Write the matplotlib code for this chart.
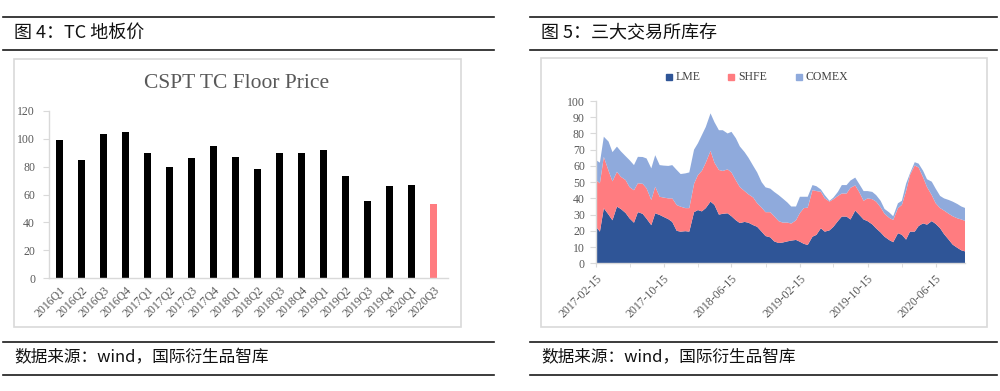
import matplotlib
matplotlib.use('Agg')
import matplotlib.pyplot as plt
import pandas as pd
from matplotlib.patches import Rectangle
from matplotlib.lines import Line2D

# ---------------- data ----------------
quarters = ['2016Q1', '2016Q2', '2016Q3', '2016Q4', '2017Q1', '2017Q2', '2017Q3', '2017Q4',
            '2018Q1', '2018Q2', '2018Q3', '2018Q4', '2019Q1', '2019Q2', '2019Q3', '2019Q4',
            '2020Q1', '2020Q3']
tc_price = [99, 85, 103, 105, 90, 80, 86, 95, 87, 78, 90, 90, 92, 73, 55, 66, 67, 53]
bar_colors = ['#000000'] * 17 + ['#ff7c80']

stock_dates = pd.date_range('2017-02-15', '2020-10-01', freq='SMS')
lme = [22.6, 19.5, 33.9, 30.0, 26.5, 34.9, 33.5, 31.0, 27.7, 25.0,
       31.5, 30.5, 27.5, 23.5, 30.8, 29.8, 28.6, 27.2, 25.5, 20.0,
       19.5, 19.8, 19.5, 31.5, 32.8, 32.0, 34.0, 38.0, 36.0, 30.0,
       30.5, 30.8, 29.0, 26.5, 24.8, 25.5, 25.0, 23.5, 22.5, 19.5,
       16.8, 16.0, 13.5, 12.5, 12.8, 13.5, 14.0, 14.4, 13.3, 12.0,
       11.3, 16.4, 17.5, 21.6, 19.5, 20.3, 22.5, 26.0, 28.8, 28.8,
       27.0, 32.5, 30.0, 27.0, 26.0, 24.0, 21.5, 19.0, 16.4, 14.3,
       13.0, 18.5, 17.6, 14.6, 19.5, 19.5, 23.0, 24.6, 23.8, 26.0,
       24.3, 21.6, 18.0, 14.5, 11.5, 9.5, 8.0, 7.2]
shfe = [28.7, 29.8, 31.7, 27.0, 24.0, 21.5, 19.8, 20.3, 19.3, 20.0,
        17.8, 18.5, 18.7, 15.5, 16.4, 11.2, 11.9, 12.8, 14.5, 15.9,
        15.4, 14.2, 14.5, 17.5, 21.6, 25.0, 28.0, 31.3, 26.0, 27.5,
        26.4, 27.1, 27.0, 24.5, 22.2, 19.0, 17.5, 17.0, 14.5, 14.8,
        14.7, 15.5, 15.5, 13.5, 12.3, 11.6, 10.5, 12.1, 17.7, 22.0,
        23.0, 28.7, 27.0, 22.5, 20.5, 17.7, 17.0, 15.5, 14.2, 14.2,
        19.5, 15.5, 14.0, 11.5, 14.0, 15.5, 16.5, 15.5, 14.1, 13.7,
        13.7, 15.5, 18.4, 29.9, 34.9, 40.8, 36.0, 28.4, 23.2, 16.0,
        12.7, 12.4, 14.5, 16.0, 17.5, 18.2, 19.0, 18.8]
comex = [12.3, 12.7, 12.4, 18.0, 18.0, 15.5, 15.7, 14.7, 16.6, 15.5,
         16.3, 16.5, 18.4, 19.5, 19.4, 19.5, 19.7, 20.0, 20.5, 21.6,
         20.1, 21.4, 22.0, 21.0, 19.6, 22.0, 22.0, 23.1, 25.0, 24.5,
         25.1, 22.1, 25.0, 26.0, 25.0, 24.0, 22.5, 19.5, 19.0, 15.7,
         15.3, 14.5, 15.0, 16.0, 14.9, 12.4, 10.5, 8.5, 10.0, 7.0,
         6.7, 3.1, 3.0, 1.4, 2.0, 0.5, 1.0, 2.5, 5.2, 5.2,
         4.5, 4.8, 5.0, 6.0, 4.5, 4.5, 4.0, 4.0, 3.0, 3.3,
         2.3, 3.0, 2.5, 4.5, 1.0, 2.0, 2.4, 4.0, 4.8, 8.3,
         9.0, 7.5, 7.5, 8.5, 9.0, 8.8, 8.0, 7.9]
series_names = ['LME', 'SHFE', 'COMEX']
series_colors = ['#2f5597', '#ff7c80', '#8faadc']
date_labels = ['2017-02-15', '2017-10-15', '2018-06-15', '2019-02-15', '2019-10-15', '2020-06-15']
minor_dates = ['2017-06-15', '2018-02-15', '2018-10-15', '2019-06-15', '2020-02-15']

# ---------------- layout helpers ----------------
W, H = 1000, 391
fig = plt.figure(figsize=(W / 100, H / 100), dpi=100)
cjk = ['Noto Sans CJK SC', 'DejaVu Sans']
serif = ['Liberation Serif', 'DejaVu Serif']
gray_txt = '#595959'
axis_gray = '#d9d9d9'


def fx(x):
    return x / W


def fy(y):
    return 1 - y / H


def rect(x0, y0, x1, y1):
    return [fx(x0), fy(y1), (x1 - x0) / W, (y1 - y0) / H]


def hline(y, x0, x1, lw=1.2, c='#1a1a1a'):
    fig.add_artist(Line2D([fx(x0), fx(x1)], [fy(y), fy(y)], lw=lw, color=c))


def box(x0, y0, x1, y1):
    fig.add_artist(Rectangle((fx(x0), fy(y1)), (x1 - x0) / W, (y1 - y0) / H,
                             fill=False, ec=axis_gray, lw=1.2, transform=fig.transFigure))


# rules and captions
for (a, b) in [(3, 494), (530, 997)]:
    hline(17, a, b)
    hline(50, a, b)
    hline(342, a, b)
    hline(375, a, b)

fig.text(fx(14), fy(33), '图 4：TC 地板价', fontsize=13, family=cjk, va='center', ha='left', color='#111111')
fig.text(fx(541), fy(33), '图 5：三大交易所库存', fontsize=13, family=cjk, va='center', ha='left', color='#111111')
fig.text(fx(14), fy(358), '数据来源：wind，国际衍生品智库', fontsize=12, family=cjk, va='center', ha='left', color='#111111')
fig.text(fx(541), fy(358), '数据来源：wind，国际衍生品智库', fontsize=12, family=cjk, va='center', ha='left', color='#111111')

box(14, 59, 461, 327)
box(541, 58, 987, 327)

# ---------------- left: bar chart ----------------
ax1 = fig.add_axes(rect(49, 110.7, 448, 278.3))
xs = list(range(len(quarters)))
ax1.bar(xs, tc_price, width=0.33, color=bar_colors)
ax1.set_ylim(0, 120)
ax1.set_xlim(-0.49, 17.65)
ax1.set_yticks(range(0, 121, 20))
ax1.set_xticks(xs)
ax1.set_xticklabels(quarters, rotation=45, ha='right', va='top', rotation_mode='anchor',
                    fontsize=8.5, family=serif, color=gray_txt)
for lab in ax1.get_yticklabels():
    lab.set_fontsize(8.5)
    lab.set_family(serif)
    lab.set_color(gray_txt)
ax1.tick_params(axis='y', length=4, color=axis_gray, pad=6)
ax1.tick_params(axis='x', length=0, pad=4)
for s in ['top', 'right']:
    ax1.spines[s].set_visible(False)
for s in ['left', 'bottom']:
    ax1.spines[s].set_color(axis_gray)
    ax1.spines[s].set_linewidth(1.0)
ax1.patch.set_alpha(0)
fig.text(fx(237), fy(83), 'CSPT TC Floor Price', fontsize=15.5, family=serif,
         ha='center', va='center', color=gray_txt)

# ---------------- right: stacked area ----------------
ax2 = fig.add_axes(rect(596, 101, 965, 263.3))
ax2.stackplot(stock_dates, lme, shfe, comex, colors=series_colors, labels=series_names, lw=0)
ax2.set_ylim(0, 100)
ax2.set_xlim(stock_dates[0], pd.Timestamp('2020-09-28'))
ax2.set_yticks(range(0, 101, 10))
for lab in ax2.get_yticklabels():
    lab.set_fontsize(8.5)
    lab.set_family(serif)
    lab.set_color(gray_txt)
ax2.set_xticks(pd.to_datetime(date_labels))
ax2.set_xticklabels(date_labels, rotation=45, ha='right', va='top', rotation_mode='anchor',
                    fontsize=8.5, family=serif, color=gray_txt)
ax2.set_xticks(pd.to_datetime(minor_dates), minor=True)
ax2.tick_params(axis='y', length=4, color=axis_gray, pad=4)
ax2.tick_params(axis='x', which='both', length=3, color=axis_gray, pad=4)
for s in ['top', 'right']:
    ax2.spines[s].set_visible(False)
for s in ['left', 'bottom']:
    ax2.spines[s].set_color(axis_gray)
    ax2.spines[s].set_linewidth(1.0)
ax2.patch.set_alpha(0)

# legend
leg_x = [669, 731, 799]
for name, col, lx in zip(series_names, series_colors, leg_x):
    fig.add_artist(Rectangle((fx(lx - 3), fy(80)), 6 / W, 6 / H, color=col, transform=fig.transFigure))
    fig.text(fx(lx + 7), fy(77), name, fontsize=8.5, family=serif, ha='left', va='center', color='#404040')

fig.savefig('out.png', dpi=100)
